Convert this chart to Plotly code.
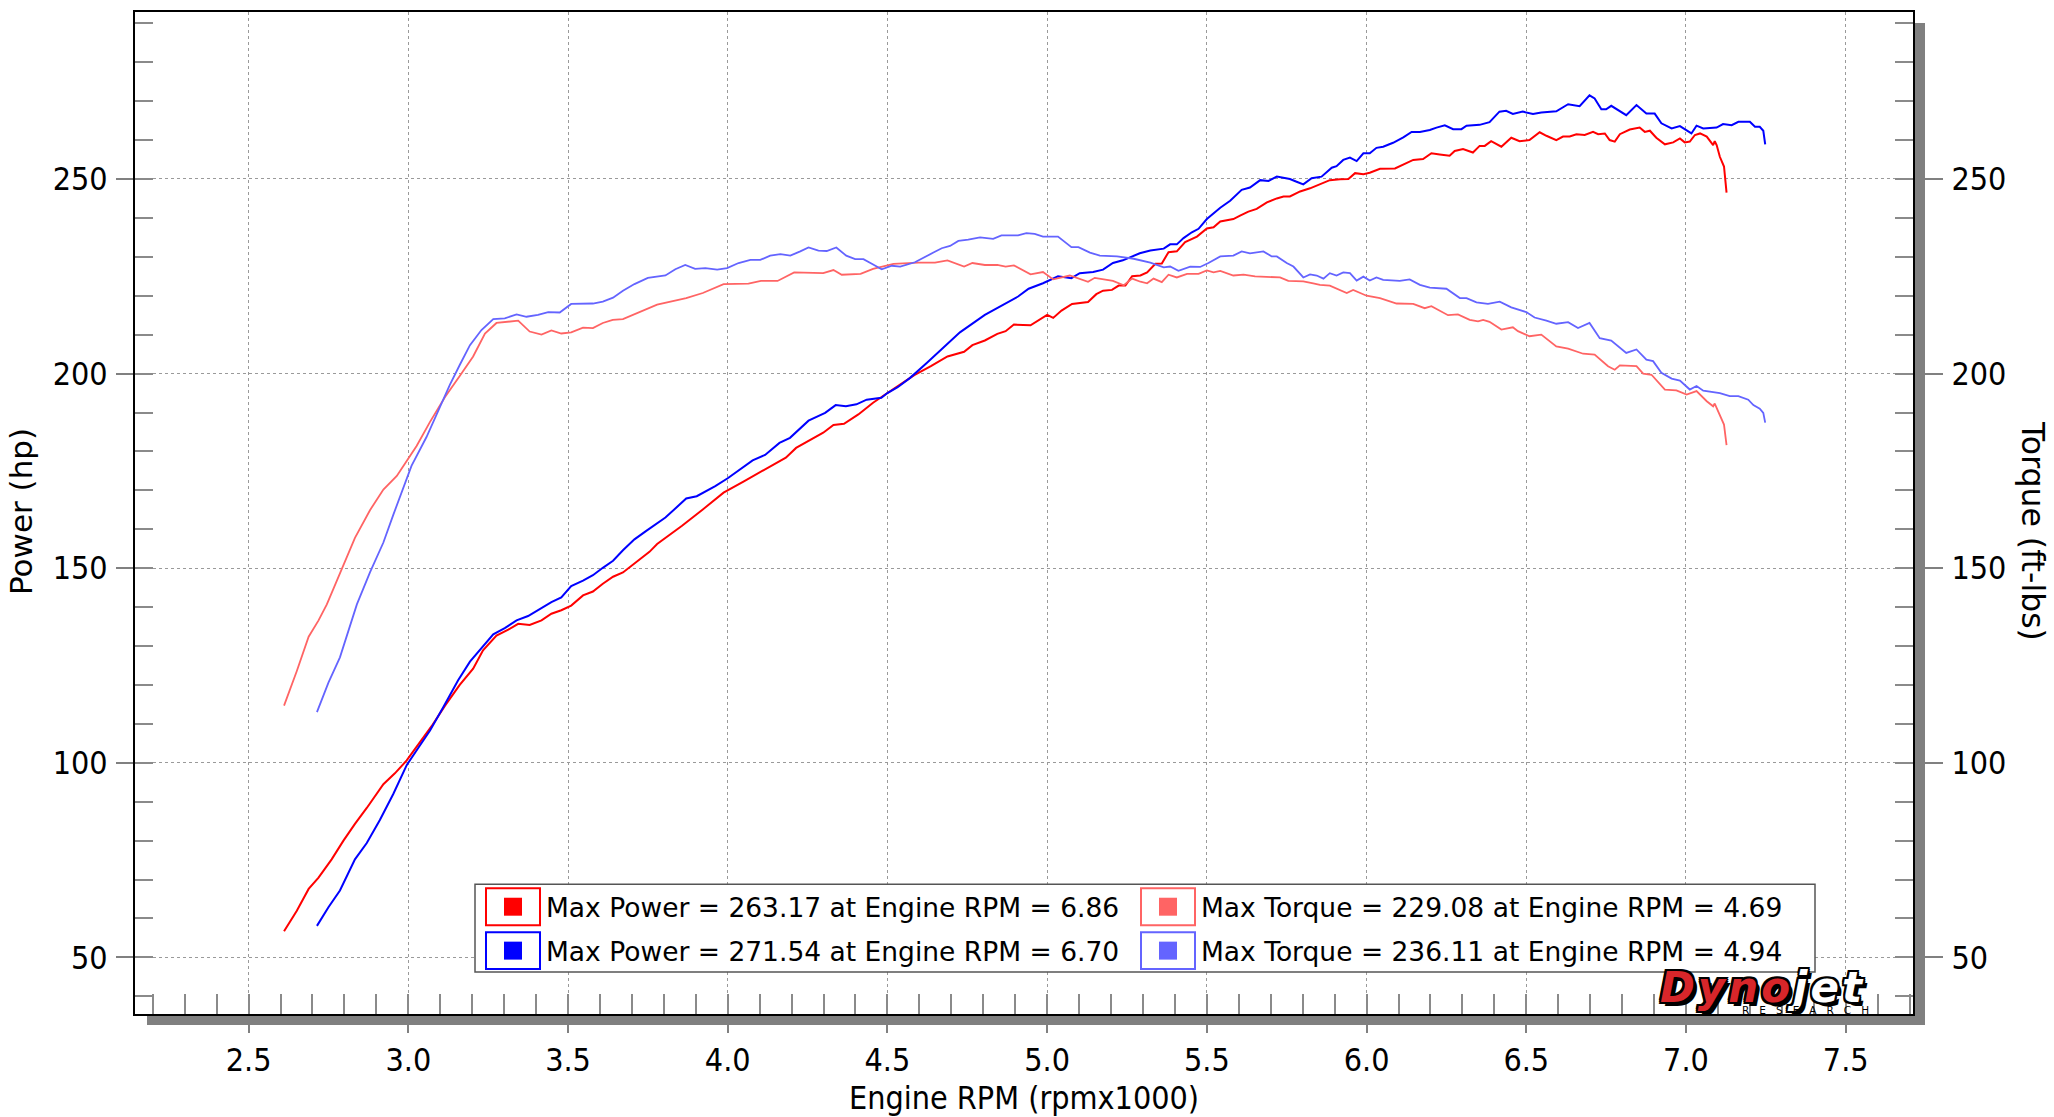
import plotly.graph_objects as go

# ---------------- data ----------------
rpm_power_1 = [2.611, 2.651, 2.688, 2.719, 2.760, 2.797, 2.833, 2.870, 2.922, 2.958, 2.995, 3.031, 3.073, 3.115,
               3.161, 3.203, 3.234, 3.276, 3.313, 3.344, 3.380, 3.417, 3.448, 3.479, 3.510, 3.547, 3.578, 3.609,
               3.641, 3.672, 3.714, 3.755, 3.779, 3.857, 3.922, 3.987, 4.052, 4.117, 4.182, 4.214, 4.260, 4.299,
               4.331, 4.364, 4.409, 4.455, 4.500, 4.545, 4.584, 4.636, 4.688, 4.740, 4.766, 4.805, 4.844, 4.870,
               4.896, 4.948, 5.000, 5.019, 5.045, 5.078, 5.128, 5.154, 5.175, 5.203, 5.224, 5.245, 5.266, 5.292,
               5.313, 5.339, 5.359, 5.380, 5.406, 5.432, 5.469, 5.500, 5.521, 5.542, 5.583, 5.604, 5.630, 5.656,
               5.688, 5.719, 5.740, 5.760, 5.792, 5.823, 5.865, 5.885, 5.917, 5.943, 5.964, 5.990, 6.010, 6.042,
               6.089, 6.120, 6.146, 6.177, 6.203, 6.229, 6.260, 6.276, 6.302, 6.333, 6.354, 6.370, 6.390, 6.422,
               6.453, 6.479, 6.510, 6.542, 6.563, 6.594, 6.615, 6.636, 6.657, 6.683, 6.709, 6.725, 6.746, 6.761,
               6.777, 6.793, 6.824, 6.855, 6.871, 6.887, 6.907, 6.934, 6.960, 6.981, 6.996, 7.012, 7.028, 7.044,
               7.065, 7.085, 7.090, 7.096, 7.106, 7.119, 7.127]
hp_1 = [56.7, 62.0, 67.6, 70.5, 75.2, 80.0, 84.3, 88.4, 94.5, 97.3, 100.6, 104.7, 109.4, 114.7,
        120.0, 124.2, 128.9, 132.7, 134.2, 135.7, 135.4, 136.6, 138.3, 139.2, 140.4, 143.0, 144.0, 146.0,
        147.8, 148.9, 151.6, 154.2, 156.2, 160.9, 165.1, 169.4, 172.4, 175.4, 178.4, 180.9, 183.1, 184.8,
        186.8, 187.1, 189.5, 192.5, 195.0, 197.4, 199.6, 201.9, 204.4, 205.6, 207.3, 208.5, 210.2, 210.9,
        212.6, 212.4, 215.1, 214.3, 216.2, 217.9, 218.4, 220.4, 221.3, 221.5, 222.6, 222.6, 225.0, 225.2,
        226.0, 228.2, 228.3, 231.2, 231.4, 233.8, 235.2, 237.3, 237.6, 239.1, 239.7, 240.6, 241.6, 242.3,
        244.0, 245.0, 245.5, 245.5, 246.8, 247.6, 248.9, 249.7, 249.9, 250.0, 251.5, 251.2, 251.6, 252.6,
        252.7, 253.8, 254.9, 255.1, 256.6, 256.3, 256.0, 257.2, 257.7, 256.8, 258.5, 258.5, 259.7, 258.3,
        260.6, 259.7, 260.0, 262.0, 261.1, 260.0, 260.9, 260.9, 261.5, 261.3, 262.1, 261.5, 261.7, 260.0,
        259.6, 261.5, 262.7, 263.2, 262.1, 262.4, 260.6, 258.9, 259.4, 260.4, 259.4, 259.6, 261.3, 261.7,
        260.9, 258.7, 259.7, 258.7, 255.7, 253.2, 246.5]

rpm_power_2 = [2.714, 2.750, 2.786, 2.833, 2.870, 2.911, 2.953, 2.995, 3.031, 3.068, 3.109, 3.156, 3.193, 3.229,
               3.266, 3.302, 3.339, 3.375, 3.411, 3.448, 3.479, 3.510, 3.547, 3.578, 3.609, 3.641, 3.672, 3.708,
               3.745, 3.805, 3.870, 3.903, 3.961, 4.000, 4.078, 4.117, 4.162, 4.195, 4.253, 4.305, 4.338, 4.370,
               4.403, 4.435, 4.481, 4.500, 4.532, 4.571, 4.623, 4.675, 4.727, 4.805, 4.864, 4.909, 4.942, 4.987,
               5.034, 5.076, 5.102, 5.144, 5.175, 5.206, 5.237, 5.264, 5.290, 5.323, 5.365, 5.385, 5.406, 5.427,
               5.453, 5.474, 5.500, 5.542, 5.573, 5.609, 5.635, 5.667, 5.693, 5.719, 5.760, 5.781, 5.802, 5.828,
               5.859, 5.891, 5.906, 5.927, 5.948, 5.969, 5.990, 6.010, 6.031, 6.052, 6.083, 6.115, 6.141, 6.167,
               6.198, 6.219, 6.245, 6.271, 6.297, 6.313, 6.354, 6.385, 6.416, 6.437, 6.458, 6.489, 6.521, 6.547,
               6.573, 6.594, 6.631, 6.667, 6.698, 6.714, 6.735, 6.750, 6.766, 6.813, 6.845, 6.876, 6.902, 6.923,
               6.955, 6.981, 7.017, 7.033, 7.054, 7.096, 7.116, 7.143, 7.164, 7.200, 7.216, 7.231, 7.242, 7.248]
hp_2 = [58.1, 62.9, 67.2, 75.2, 79.4, 85.3, 92.0, 99.4, 103.8, 108.3, 114.2, 121.2, 126.0, 129.5,
        133.0, 134.6, 136.6, 137.7, 139.5, 141.3, 142.5, 145.4, 146.8, 148.2, 150.1, 151.9, 154.6, 157.4,
        159.6, 163.0, 167.9, 168.5, 171.1, 173.1, 177.7, 179.1, 182.2, 183.5, 187.9, 189.9, 191.9, 191.6,
        192.1, 193.3, 193.8, 195.0, 196.5, 198.9, 202.7, 206.6, 210.6, 215.1, 217.7, 219.8, 221.8, 223.2,
        225.0, 224.5, 225.8, 226.1, 226.7, 228.4, 229.1, 230.1, 230.9, 231.6, 232.1, 233.2, 233.2, 234.8,
        236.3, 237.2, 239.7, 242.6, 244.4, 247.2, 247.8, 249.7, 249.5, 250.6, 250.0, 249.3, 248.6, 250.2,
        250.6, 252.9, 253.3, 254.9, 255.5, 254.6, 256.6, 256.6, 258.0, 258.3, 259.3, 260.7, 262.1, 262.1,
        262.6, 263.2, 263.8, 262.8, 262.8, 263.7, 263.9, 264.6, 267.3, 267.5, 266.7, 267.3, 266.7, 267.1,
        267.2, 267.4, 269.2, 268.7, 271.5, 270.7, 267.9, 267.9, 268.8, 266.4, 269.0, 266.8, 266.8, 264.3,
        263.0, 263.6, 261.7, 263.7, 263.0, 263.2, 264.1, 263.8, 264.7, 264.7, 263.4, 263.4, 262.4, 258.9]

rpm_torque_1 = [2.611, 2.651, 2.688, 2.719, 2.745, 2.792, 2.833, 2.880, 2.922, 2.964, 2.984, 3.026, 3.068, 3.115,
                3.161, 3.203, 3.240, 3.276, 3.344, 3.380, 3.417, 3.448, 3.479, 3.510, 3.547, 3.578, 3.609, 3.640,
                3.672, 3.714, 3.755, 3.779, 3.870, 3.922, 3.987, 4.065, 4.104, 4.156, 4.208, 4.299, 4.331, 4.357,
                4.416, 4.455, 4.519, 4.597, 4.649, 4.688, 4.740, 4.766, 4.805, 4.844, 4.870, 4.896, 4.948, 4.987,
                5.019, 5.071, 5.128, 5.149, 5.206, 5.240, 5.266, 5.292, 5.313, 5.333, 5.359, 5.380, 5.406, 5.438,
                5.474, 5.500, 5.521, 5.542, 5.583, 5.615, 5.651, 5.729, 5.755, 5.802, 5.833, 5.854, 5.885, 5.938,
                5.958, 6.000, 6.042, 6.094, 6.146, 6.182, 6.203, 6.255, 6.286, 6.323, 6.349, 6.365, 6.385, 6.422,
                6.458, 6.474, 6.510, 6.547, 6.594, 6.631, 6.678, 6.714, 6.756, 6.777, 6.793, 6.845, 6.866, 6.892,
                6.934, 6.970, 7.002, 7.033, 7.065, 7.085, 7.090, 7.106, 7.119, 7.127]
tq_1 = [114.7, 123.6, 132.4, 136.6, 140.7, 150.1, 157.8, 164.9, 170.2, 173.7, 176.1, 181.4, 187.6, 194.0,
        199.4, 204.4, 210.3, 213.0, 213.6, 210.8, 210.0, 211.1, 210.3, 210.6, 211.8, 211.7, 213.0, 213.8,
        214.0, 215.4, 216.7, 217.7, 219.4, 220.7, 223.0, 223.1, 223.8, 223.8, 226.0, 225.8, 226.6, 225.4,
        225.6, 226.9, 228.2, 228.5, 228.5, 229.1, 227.5, 228.4, 227.9, 227.9, 227.5, 227.8, 225.5, 226.1,
        224.2, 225.2, 223.6, 224.6, 223.8, 222.7, 224.4, 223.6, 223.2, 224.4, 223.5, 225.4, 224.7, 225.6,
        225.6, 226.5, 226.0, 226.4, 225.2, 225.4, 225.0, 224.7, 223.8, 223.7, 223.2, 222.8, 222.6, 220.7,
        221.5, 220.0, 219.4, 218.0, 217.9, 216.8, 217.3, 215.0, 215.2, 213.8, 213.4, 213.8, 213.3, 211.3,
        211.9, 210.9, 209.6, 210.0, 207.0, 206.4, 205.1, 204.9, 201.9, 201.0, 202.1, 201.9, 200.0, 199.7,
        195.9, 195.7, 194.6, 195.5, 192.9, 191.6, 192.3, 189.1, 186.9, 181.6]

rpm_torque_2 = [2.714, 2.750, 2.786, 2.812, 2.839, 2.880, 2.922, 2.953, 2.984, 3.010, 3.057, 3.099, 3.130, 3.161,
                3.193, 3.229, 3.266, 3.302, 3.339, 3.370, 3.406, 3.438, 3.474, 3.510, 3.578, 3.609, 3.641, 3.672,
                3.708, 3.750, 3.805, 3.836, 3.867, 3.898, 3.930, 3.967, 3.998, 4.034, 4.071, 4.102, 4.133, 4.165,
                4.196, 4.227, 4.253, 4.284, 4.310, 4.340, 4.371, 4.399, 4.425, 4.451, 4.482, 4.514, 4.540, 4.586,
                4.618, 4.644, 4.670, 4.696, 4.722, 4.753, 4.790, 4.831, 4.857, 4.909, 4.935, 4.961, 4.987, 5.034,
                5.076, 5.098, 5.134, 5.165, 5.219, 5.271, 5.323, 5.365, 5.385, 5.411, 5.448, 5.479, 5.505, 5.542,
                5.583, 5.609, 5.635, 5.677, 5.703, 5.719, 5.750, 5.771, 5.802, 5.823, 5.844, 5.865, 5.885, 5.906,
                5.927, 5.948, 5.969, 5.990, 6.010, 6.031, 6.052, 6.104, 6.135, 6.167, 6.198, 6.250, 6.292, 6.313,
                6.344, 6.380, 6.417, 6.453, 6.500, 6.526, 6.563, 6.594, 6.631, 6.662, 6.698, 6.730, 6.766, 6.813,
                6.845, 6.876, 6.897, 6.923, 6.955, 6.981, 7.012, 7.033, 7.054, 7.106, 7.137, 7.164, 7.195, 7.211,
                7.231, 7.242, 7.248]
tq_2 = [113.0, 120.6, 127.1, 133.6, 140.7, 148.9, 156.6, 163.7, 170.8, 176.3, 183.7, 191.4, 197.1, 202.2,
        207.3, 211.2, 214.0, 214.2, 215.2, 214.6, 215.1, 215.8, 215.7, 217.9, 218.0, 218.5, 219.5, 221.3,
        223.0, 224.6, 225.2, 226.8, 227.9, 226.9, 227.1, 226.7, 227.1, 228.4, 229.2, 229.2, 230.3, 230.7,
        230.3, 231.4, 232.4, 231.6, 231.5, 232.4, 230.3, 229.4, 229.4, 228.2, 226.8, 227.7, 227.5, 228.6,
        230.1, 231.1, 232.2, 232.8, 234.1, 234.4, 235.0, 234.6, 235.5, 235.5, 236.1, 235.9, 235.2, 235.2,
        232.5, 232.5, 231.1, 230.3, 230.1, 229.5, 228.5, 227.3, 227.5, 226.4, 227.5, 227.4, 228.4, 230.1,
        230.3, 231.4, 230.9, 231.4, 230.1, 230.1, 228.4, 227.5, 224.7, 225.5, 225.2, 224.4, 225.8, 225.2,
        226.0, 225.8, 223.9, 224.9, 223.9, 224.7, 224.1, 223.8, 224.2, 222.8, 222.1, 221.8, 219.4, 219.4,
        218.3, 217.9, 218.5, 217.0, 215.8, 214.4, 213.6, 212.8, 213.2, 211.7, 213.0, 209.1, 208.5, 205.3,
        206.2, 203.6, 203.2, 200.2, 198.7, 198.2, 195.9, 196.8, 195.6, 195.0, 194.2, 194.2, 193.3, 191.9,
        191.0, 189.9, 187.4]

legend_labels = ["Max Power = 263.17 at Engine RPM = 6.86",
                 "Max Power = 271.54 at Engine RPM = 6.70",
                 "Max Torque = 229.08 at Engine RPM = 4.69",
                 "Max Torque = 236.11 at Engine RPM = 4.94"]
x_tick_vals = [2.5, 3.0, 3.5, 4.0, 4.5, 5.0, 5.5, 6.0, 6.5, 7.0, 7.5]
y_tick_vals = [50, 100, 150, 200, 250]

# ---------------- styling / layout ----------------
FONT_C = "DejaVu Sans Condensed, DejaVu Sans, sans-serif"
FONT = "DejaVu Sans, sans-serif"
C_P1, C_P2, C_T1, C_T2 = "#ff0000", "#0000ff", "#ff6464", "#6464ff"
W, H = 2054, 1117
L, R, T, B = 135, 141, 10, 103
PW, PH = W - L - R, H - T - B


def px(x):
    return (x - L) / PW


def py(y):
    return (H - B - y) / PH


fig = go.Figure()
fig.add_trace(go.Scatter(x=rpm_torque_1, y=tq_1, yaxis="y2", mode="lines",
                         line=dict(color=C_T1, width=1.8), showlegend=False))
fig.add_trace(go.Scatter(x=rpm_torque_2, y=tq_2, yaxis="y2", mode="lines",
                         line=dict(color=C_T2, width=1.8), showlegend=False))
fig.add_trace(go.Scatter(x=rpm_power_1, y=hp_1, mode="lines",
                         line=dict(color=C_P1, width=2), showlegend=False))
fig.add_trace(go.Scatter(x=rpm_power_2, y=hp_2, mode="lines",
                         line=dict(color=C_P2, width=2), showlegend=False))

yrange = [35.46, 292.9]
common_y = dict(range=yrange, tickvals=y_tick_vals, ticks="outside", tickcolor="#808080",
                tickwidth=1.5, showline=True, linecolor="black", linewidth=2,
                tickfont=dict(family=FONT_C, size=32, color="black"), zeroline=False,
                minor=dict(ticks="inside", ticklen=18, dtick=10, tick0=0, tickcolor="#8a8a8a",
                           tickwidth=1.5, showgrid=False))

fig.update_layout(
    width=W, height=H, margin=dict(l=L, r=R, t=T, b=B),
    paper_bgcolor="white", plot_bgcolor="white", showlegend=False,
    xaxis=dict(range=[2.1444, 7.7107], tickvals=x_tick_vals, ticktext=[f"{v:.1f}" for v in x_tick_vals],
               ticks="outside", ticklen=17, tickcolor="#808080", tickwidth=1.5,
               showline=True, mirror=True, linecolor="black", linewidth=2,
               showgrid=True, gridcolor="#9a9a9a", griddash="dot", gridwidth=1, zeroline=False,
               tickfont=dict(family=FONT_C, size=32, color="black"), ticklabelstandoff=0,
               minor=dict(ticks="inside", ticklen=20, dtick=0.1, tick0=0, tickcolor="#8a8a8a",
                          tickwidth=1.5, showgrid=False)),
    yaxis=dict(**common_y, ticklen=17, mirror=True, showgrid=True, gridcolor="#9a9a9a",
               griddash="dot", gridwidth=1, ticklabelstandoff=2),
    yaxis2=dict(**common_y, ticklen=28, overlaying="y", side="right", showgrid=False,
                ticklabelstandoff=2),
)

shapes = []
# drop shadow of frame
shapes.append(dict(type="rect", xref="paper", yref="paper", x0=px(1914), x1=px(1925), y0=py(1025), y1=py(21),
                   fillcolor="#808080", line=dict(width=0), layer="below"))
shapes.append(dict(type="rect", xref="paper", yref="paper", x0=px(147), x1=px(1925), y0=py(1025), y1=py(1015),
                   fillcolor="#808080", line=dict(width=0), layer="below"))
# legend box
shapes.append(dict(type="rect", xref="paper", yref="paper", x0=px(475), x1=px(1815), y0=py(972), y1=py(884),
                   fillcolor="white", line=dict(color="#555555", width=1.5), layer="above"))
annotations = []
entries = [(C_P1, 486, 888, legend_labels[0]), (C_P2, 486, 932, legend_labels[1]),
           (C_T1, 1141, 888, legend_labels[2]), (C_T2, 1141, 932, legend_labels[3])]
for col, x0, y0, label in entries:
    shapes.append(dict(type="rect", xref="paper", yref="paper", x0=px(x0), x1=px(x0 + 54),
                       y0=py(y0 + 37), y1=py(y0), line=dict(color=col, width=2), fillcolor="rgba(0,0,0,0)",
                       layer="above"))
    shapes.append(dict(type="rect", xref="paper", yref="paper", x0=px(x0 + 18), x1=px(x0 + 36),
                       y0=py(y0 + 27.5), y1=py(y0 + 9.5), line=dict(width=0), fillcolor=col, layer="above"))
    annotations.append(dict(text=label, xref="paper", yref="paper", x=px(x0 + 58), y=py(y0 + 19),
                            xanchor="left", yanchor="middle", showarrow=False,
                            font=dict(family=FONT, size=26.5, color="black")))

# axis titles
annotations.append(dict(text="Power (hp)", xref="paper", yref="paper", x=px(21), y=py(511), textangle=-90,
                        xanchor="center", yanchor="middle", showarrow=False,
                        font=dict(family=FONT, size=31, color="black")))
annotations.append(dict(text="Torque (ft-lbs)", xref="paper", yref="paper", x=px(2033), y=py(530), textangle=90,
                        xanchor="center", yanchor="middle", showarrow=False,
                        font=dict(family=FONT, size=31.5, color="black")))
annotations.append(dict(text="Engine RPM (rpmx1000)", xref="paper", yref="paper", x=px(1024), y=py(1098),
                        xanchor="center", yanchor="middle", showarrow=False,
                        font=dict(family=FONT_C, size=32, color="black")))
# Dynojet logo
annotations.append(dict(text="<span style='color:#d8262a;letter-spacing:3px'>Dyno</span>"
                             "<span style='color:#ffffff;letter-spacing:3px'>jet</span>",
                        xref="paper", yref="paper", x=px(1762), y=py(987), xanchor="center", yanchor="middle",
                        showarrow=False,
                        font=dict(family="DejaVu Sans", size=42, color="#d8262a", weight="bold", style="italic",
                                  shadow="2px 2px 0 #000, -2px -2px 0 #000, 2px -2px 0 #000, -2px 2px 0 #000, "
                                         "0 2px 0 #000, 0 -2px 0 #000, 2px 0 0 #000, -2px 0 0 #000, 4px 4px 0 #000")))
annotations.append(dict(text="R   E   S   E   A   R   C   H", xref="paper", yref="paper", x=px(1805), y=py(1010),
                        xanchor="center", yanchor="middle", showarrow=False,
                        font=dict(family="DejaVu Sans", size=10.5, color="black")))

fig.update_layout(shapes=shapes, annotations=annotations)

fig.write_html("out.html", config={"displayModeBar": False},
               post_script="document.body.style.margin='0';document.body.style.overflow='hidden';")
